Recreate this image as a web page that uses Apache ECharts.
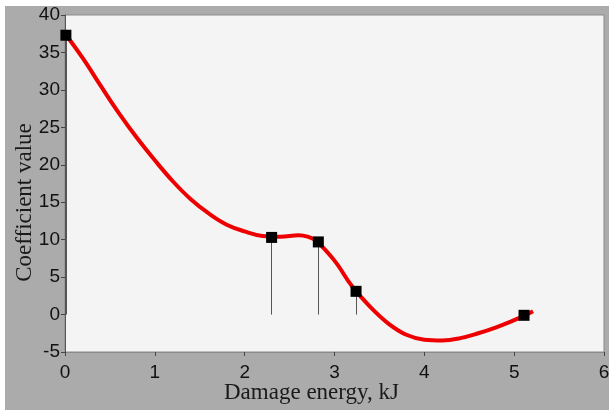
<!DOCTYPE html>
<html>
<head>
<meta charset="utf-8">
<script src="https://cdn.jsdelivr.net/npm/echarts@6/dist/echarts.min.js"></script>
<style>
html,body{margin:0;padding:0;background:#fff;}
#c{width:609px;height:410px;}
</style>
</head>
<body>
<div id="c"></div>
<script>
// Smooth fitted curve (Damage energy kJ, Coefficient value)
const curveX = [0.02, 0.2, 0.4, 0.6, 0.8, 1.0, 1.2, 1.4, 1.6, 1.8, 2.0, 2.2, 2.4, 2.6, 2.7, 2.8, 3.0, 3.2, 3.4, 3.6, 3.8, 4.0, 4.2, 4.4, 4.6, 4.8, 5.0, 5.11, 5.21];
const curveY = [37.2, 34.2, 30.5, 26.9, 23.6, 20.6, 17.8, 15.4, 13.5, 12.0, 11.1, 10.5, 10.4, 10.6, 10.4, 9.8, 7.2, 3.7, 1.0, -1.2, -2.7, -3.35, -3.45, -3.15, -2.5, -1.7, -0.75, -0.17, 0.45];
// Data points (markers)
const pointX = [0.01, 2.30, 2.82, 3.24, 5.11];
const pointY = [37.3, 10.3, 9.7, 3.1, -0.1];
// Axis ticks
const xTicks = [0, 1, 2, 3, 4, 5, 6];
const yTicks = [-5, 0, 5, 10, 15, 20, 25, 30, 35, 40];

const chart = echarts.init(document.getElementById('c'), null, {renderer: 'canvas'});
const curveData = curveX.map((x, i) => [x, curveY[i]]);
const pointData = pointX.map((x, i) => [x, pointY[i]]);
const stems = pointX.map((x, i) => [{coord: [x, 0]}, {coord: [x, pointY[i]]}]);

chart.setOption({
  backgroundColor: '#ffffff',
  animation: false,
  graphic: [{
    type: 'rect', z: -100, silent: true,
    shape: {x: 5, y: 6, width: 604, height: 404},
    style: {fill: '#ababab'}
  }],
  grid: {
    left: 65, right: 5, top: 15, bottom: 58, outerBoundsMode: 'none', containLabel: false,
    show: true, backgroundColor: '#f4f4f4', borderColor: '#8a8a8a', borderWidth: 1
  },
  xAxis: {
    type: 'value', min: xTicks[0], max: xTicks[xTicks.length - 1], interval: 1,
    name: 'Damage energy, kJ', nameLocation: 'middle', nameGap: 29, nameMoveOverlap: false,
    nameTextStyle: {fontFamily: 'Liberation Serif', fontSize: 23, color: '#1a1a1a', padding: [0, 46, 0, 0]},
    axisLine: {onZero: false, lineStyle: {color: '#8a8a8a', width: 1}},
    axisTick: {show: true, inside: false, length: 4, lineStyle: {color: '#444'}},
    axisLabel: {fontFamily: 'Liberation Sans', fontSize: 19, color: '#111', margin: 11},
    splitLine: {show: false}
  },
  yAxis: {
    type: 'value', min: yTicks[0], max: yTicks[yTicks.length - 1], interval: 5,
    name: 'Coefficient value', nameLocation: 'middle', nameGap: 29, nameMoveOverlap: false,
    nameTextStyle: {fontFamily: 'Liberation Serif', fontSize: 23, color: '#1a1a1a', padding: [0, 38, 0, 0]},
    axisLine: {onZero: false, lineStyle: {color: '#555', width: 1}},
    axisTick: {show: true, inside: false, length: 4, lineStyle: {color: '#444'}},
    axisLabel: {fontFamily: 'Liberation Sans', fontSize: 19, color: '#111', margin: 5},
    splitLine: {show: false}
  },
  series: [
    {
      type: 'line', data: curveData, smooth: 0.4, showSymbol: false, symbol: 'none',
      lineStyle: {color: '#ee0000', width: 4}, z: 3
    },
    {
      type: 'scatter', data: pointData, symbol: 'rect', symbolSize: 11,
      itemStyle: {color: '#000', opacity: 1}, z: 5,
      markLine: {
        silent: true, symbol: ['none', 'none'], label: {show: false},
        lineStyle: {color: '#555', width: 1, type: 'solid', opacity: 1},
        data: stems, z: 2
      }
    }
  ]
});
</script>
</body>
</html>
